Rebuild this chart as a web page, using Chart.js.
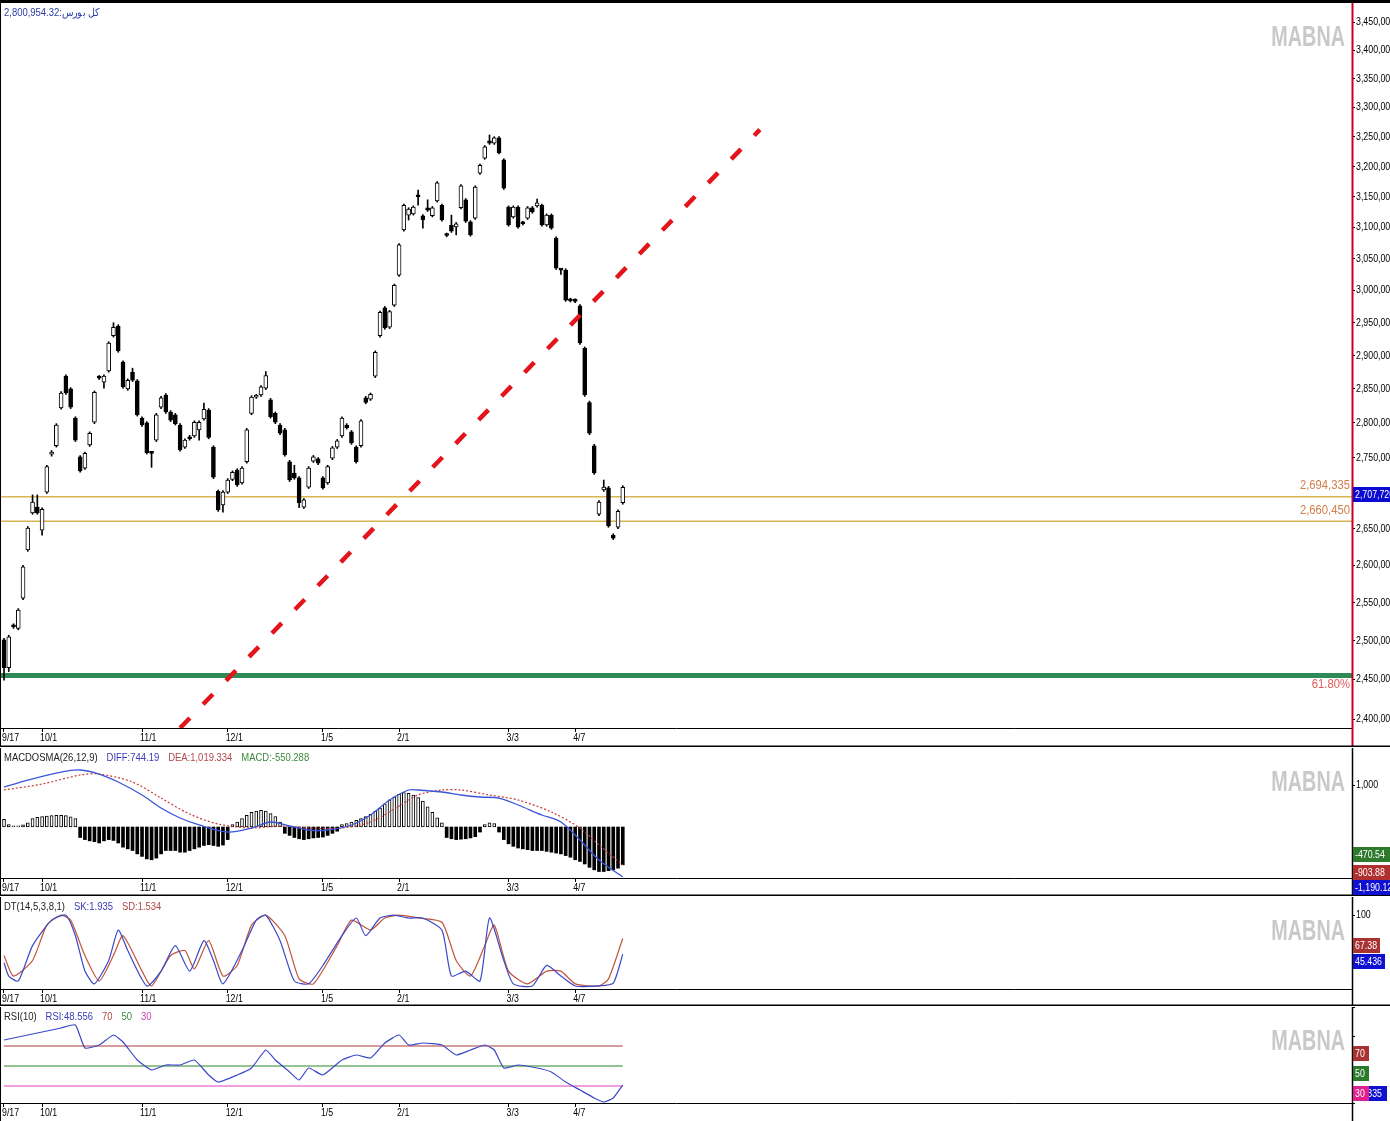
<!DOCTYPE html>
<html>
<head>
<meta charset="utf-8">
<script src="https://cdn.jsdelivr.net/npm/chart.js@4.4.1/dist/chart.umd.min.js"></script>
<style>
body { margin: 0; background: #fff; }
#wrap { position: relative; width: 1390px; height: 1121px; overflow: hidden; background: #fff; }
#topline { position: absolute; left: 0; top: 0; width: 1390px; height: 3px; background: #000; }
canvas { position: absolute; left: 0; display: block; }
</style>
</head>
<body>
<div id="wrap">
  <div id="topline"></div>
  <canvas id="main" width="1390" height="744" style="top:3px"></canvas>
  <canvas id="macd" width="1390" height="148" style="top:748px"></canvas>
  <canvas id="dt" width="1390" height="109" style="top:897px"></canvas>
  <canvas id="rsi" width="1390" height="114" style="top:1007px"></canvas>
</div>
<script>
const FONT = '"Liberation Sans", Arial, sans-serif';

// x positions are candle numbers (0 = 9/17)
const X_MIN = -0.84, X_MAX = 283.2;
const dateIdx = [0, 8, 29, 47, 67, 83, 106, 120];
const dateLabels = ['9/17', '10/1', '11/1', '12/1', '1/5', '2/1', '3/3', '4/7'];

// daily candles, thousands of points
const candleOpen = [2501,2465,2520,2516,2556,2621,2672,2680,2648,2701,
  2755,2767,2822,2869,2850,2807,2751,2735,2768,2801,
  2868,2860,2877,2930,2945,2890,2850,2875,2862,2807,
  2800,2757,2775,2823,2841,2816,2812,2797,2765,2780,
  2781,2790,2806,2819,2765,2702,2683,2701,2719,2732,
  2714,2744,2814,2838,2841,2851,2834,2814,2797,2790,
  2744,2728,2721,2680,2708,2745,2748,2721,2714,2749,
  2765,2781,2797,2787,2765,2767,2837,2835,2869,2930,
  2973,2943,2977,3024,3096,3120,3122,3153,3119,3132,
  3119,3143,3136,3089,3104,3101,3132,3145,3109,3115,
  3189,3214,3243,3239,3248,3211,3133,3117,3133,3108,
  3115,3132,3135,3136,3104,3120,3083,3033,3032,2986,
  2985,2976,2911,2830,2767,2670,2704,2707,2641,2652,2686];
const candleHigh = [2503,2507,2522,2542,2600,2653,2697,2697,2679,2739,
  2760,2799,2846,2871,2852,2809,2753,2758,2787,2847,
  2870,2871,2921,2950,2947,2892,2865,2881,2864,2809,
  2802,2759,2814,2839,2843,2818,2814,2799,2777,2782,
  2803,2803,2829,2821,2767,2704,2703,2720,2731,2734,
  2737,2792,2840,2842,2855,2876,2836,2816,2799,2792,
  2746,2739,2723,2692,2737,2753,2750,2723,2739,2766,
  2776,2809,2799,2789,2767,2805,2839,2844,2907,2968,
  2975,2969,3010,3074,3138,3132,3135,3161,3121,3145,
  3134,3175,3138,3091,3120,3108,3170,3147,3111,3168,
  3204,3235,3253,3250,3250,3213,3135,3135,3135,3110,
  3134,3134,3146,3138,3122,3122,3085,3034,3034,2988,
  2987,2978,2913,2832,2769,2689,2718,2709,2643,2676,2710];
const candleLow = [2449,2460,2516,2514,2554,2619,2670,2670,2641,2699,
  2752,2765,2820,2842,2821,2773,2729,2733,2766,2799,
  2864,2851,2875,2928,2905,2851,2848,2861,2810,2795,
  2755,2736,2773,2821,2814,2802,2797,2759,2763,2775,
  2779,2775,2804,2777,2720,2674,2673,2699,2717,2709,
  2712,2742,2812,2836,2839,2849,2807,2799,2783,2752,
  2716,2719,2679,2678,2706,2743,2740,2705,2712,2747,
  2763,2779,2791,2769,2742,2765,2828,2833,2867,2928,
  2940,2941,2975,3022,3094,3112,3120,3136,3099,3126,
  3117,3141,3110,3085,3092,3088,3130,3108,3086,3113,
  3187,3212,3237,3237,3221,3162,3102,3115,3099,3104,
  3113,3123,3133,3102,3102,3097,3033,3025,2983,2982,
  2981,2917,2839,2783,2726,2668,2702,2652,2635,2650,2684];
const candleClose = [2465,2505,2518,2540,2598,2651,2687,2672,2677,2737,
  2757,2797,2844,2844,2823,2775,2731,2756,2785,2845,
  2866,2869,2919,2943,2907,2853,2863,2863,2812,2797,
  2757,2756,2812,2837,2816,2804,2799,2761,2775,2777,
  2801,2801,2820,2779,2722,2676,2701,2718,2729,2711,
  2735,2790,2838,2840,2853,2870,2809,2801,2785,2754,
  2718,2721,2686,2690,2735,2751,2742,2707,2737,2764,
  2774,2807,2793,2771,2744,2803,2830,2842,2905,2966,
  2942,2967,3008,3072,3136,3130,3133,3150,3112,3128,
  3132,3173,3112,3087,3094,3106,3168,3110,3088,3166,
  3202,3233,3239,3248,3223,3164,3104,3133,3101,3106,
  3132,3125,3140,3104,3120,3099,3035,3032,2985,2984,
  2983,2919,2841,2785,2728,2687,2708,2654,2637,2674,2707.72];

const priceTicks = [2400,2450,2500,2550,2600,2650,2700,2750,2800,2850,2900,2950,3000,3050,3100,3150,3200,3250,3300,3350,3400,3450];
const levelValues = [2694335, 2660450];
const levelTexts = ['2,694,335', '2,660,450'];
const fibValue = 2455000;
const trendX = [37, 158.8];
const trendY = [2388800, 3262000];
const lastPrice = 2707720;

// MACD panel
const macdHist = [180,60,30,30,50,100,200,230,250,260,270,280,280,270,240,200,
  -250,-300,-330,-350,-380,-330,-300,-320,-380,-480,-520,-560,-640,-700,-760,-780,
  -740,-640,-560,-560,-560,-600,-600,-560,-520,-480,-440,-420,-440,-460,-430,-300,
  60,120,200,280,350,380,400,380,320,250,120,
  -150,-200,-250,-280,-300,-280,-260,-250,-240,-200,-150,-100,
  60,80,120,160,200,250,300,380,450,550,650,720,780,820,800,760,700,620,480,350,220,100,
  -250,-280,-300,-290,-280,-260,-230,-120,
  60,100,80,
  -120,-300,-400,-460,-500,-520,-540,-560,-560,-560,-580,-600,-620,-640,-680,-720,
  -780,-820,-880,-960,-1020,-1060,-1060,-1040,-1020,-980,-900];
const diffIdx = [0,5,12,16,20,24,29,33,37,41,47,52,56,60,64,68,73,77,81,85,87,92,96,100,104,108,113,117,121,125,130];
const diffVal = [952,1119,1309,1357,1261,1071,762,452,214,48,-119,-24,119,24,-71,-71,48,286,643,881,881,833,762,714,690,524,286,119,-309,-785,-1190];
const deaIdx = [0,8,16,20,27,33,39,45,52,58,64,71,77,83,87,92,96,102,108,115,121,125,130];
const deaVal = [881,1023,1238,1261,1071,690,309,71,-24,24,-24,-24,119,500,762,881,881,762,643,357,-24,-428,-904];

// DT (stochastic) panel
const skIdx = [0,1,3,6,10,13,15,17,19,22,24,26,30,33,36,39,42,44,46,50,53,55,58,61,64,67,71,74,76,79,82,85,88,92,94,97,100,102,105,107,111,114,117,120,125,128,130];
const skVal = [33,14,7,57,93,100,71,21,3,36,79,50,0,21,57,21,64,36,3,50,93,100,64,7,3,29,71,96,71,96,100,96,96,79,14,21,7,96,36,3,0,29,14,0,0,4,45];
const sdIdx = [0,2,6,9,12,14,17,20,23,25,29,31,35,38,40,43,46,49,52,55,59,62,65,70,73,77,80,83,87,92,95,98,101,103,106,110,114,117,120,125,127,130];
const sdVal = [43,14,36,86,100,93,43,7,43,71,21,0,43,50,24,64,14,29,86,100,71,10,3,57,93,79,96,100,96,90,36,14,57,86,21,3,21,21,3,0,10,67];

// RSI panel
const rsiIdx = [0,3,8,12,15,17,20,23,25,28,31,34,37,40,43,45,49,52,55,57,60,62,64,67,71,74,77,80,83,85,88,92,95,98,101,103,105,108,112,115,118,121,124,126,128,130];
const rsiVal = [76,79,84,88,91,68,71,81,74,56,46,51,51,56,41,34,41,48,66,56,44,36,48,41,56,61,58,73,81,71,73,71,61,66,71,66,48,51,48,44,34,26,18,14,18,31];
const rsiLevels = [70, 50, 30];
const rsiLevelColors = ['#b03a3a', '#2a8a2a', '#e040c0'];

// narrow text: the terminal font is condensed, so squeeze horizontally
function sText(ctx, t, x, y, sx, align) {
  ctx.save();
  ctx.translate(x, y);
  ctx.scale(sx, 1);
  ctx.textAlign = align || 'left';
  ctx.fillText(t, 0, 0);
  ctx.restore();
  return ctx.measureText(t).width * sx;
}

const deco = {
  id: 'deco',
  afterDraw(chart, args, o) {
    const ctx = chart.ctx, a = chart.chartArea, W = chart.width, H = chart.height;
    const xs = chart.scales.x, ys = chart.scales.y;
    ctx.save();
    ctx.textBaseline = 'middle';
    // watermark
    ctx.font = 'bold 30px ' + FONT;
    ctx.fillStyle = '#c9c9c9';
    sText(ctx, 'MABNA', a.right - 7, a.top + 35, 0.66, 'right');
    // header
    ctx.font = '11px ' + FONT;
    let x = 4;
    o.header.forEach(h => {
      ctx.fillStyle = h[1];
      x += sText(ctx, h[0], x, a.top + 10, 0.86) + 9;
    });
    // date labels
    ctx.fillStyle = '#000';
    dateIdx.forEach((v, i) => sText(ctx, dateLabels[i], xs.getPixelForValue(v) - 2, a.bottom + 10, 0.8));
    // price / value labels on the right axis
    (o.yLabels || []).forEach(t => sText(ctx, t[1], a.right + 4, ys.getPixelForValue(t[0]), 0.8));
    // level labels
    ctx.font = '12.5px ' + FONT;
    (o.labels || []).forEach(l => {
      ctx.fillStyle = l.color;
      sText(ctx, l.text, a.right - 2, ys.getPixelForValue(l.v) + l.dy, 0.9, 'right');
    });
    // right axis line, left line, bottom separator
    ctx.strokeStyle = o.axisColor;
    ctx.lineWidth = o.axisWidth;
    ctx.beginPath(); ctx.moveTo(a.right + 0.5, 0); ctx.lineTo(a.right + 0.5, H); ctx.stroke();
    ctx.strokeStyle = '#000';
    ctx.lineWidth = 1;
    ctx.beginPath(); ctx.moveTo(0.5, 0); ctx.lineTo(0.5, H); ctx.stroke();
    if (o.sep) {
      ctx.lineWidth = 1.5;
      ctx.beginPath(); ctx.moveTo(0, H - 0.75); ctx.lineTo(W, H - 0.75); ctx.stroke();
    }
    // value boxes on the axis
    let last = -1e9;
    ctx.font = '11px ' + FONT;
    (o.boxes || []).forEach(b => {
      let top = Math.round(ys.getPixelForValue(b.v));
      if (top < last) top = last;
      b.parts.forEach(p => {
        ctx.fillStyle = p.bg;
        ctx.fillRect(a.right + 1, top, p.w, 15);
        ctx.fillStyle = '#fff';
        sText(ctx, p.text, a.right + 3, top + 8, 0.8);
      });
      last = top + 15;
    });
    ctx.restore();
  }
};

function xAxis(h) {
  return {
    type: 'linear', min: X_MIN, max: X_MAX, offset: false,
    afterBuildTicks: s => { s.ticks = dateIdx.map(v => ({ value: v })); },
    afterFit: s => { s.height = h; s.paddingLeft = 0; s.paddingRight = 0; },
    ticks: { display: false },
    grid: { drawOnChartArea: false, offset: false, tickLength: 4, color: '#000' },
    border: { color: '#000', width: 1 }
  };
}
function yAxis(extra) {
  return Object.assign({
    position: 'right',
    afterFit: s => { s.width = 38; s.paddingTop = 0; s.paddingBottom = 0; },
    ticks: { display: false },
    grid: { drawOnChartArea: false, tickLength: 3, color: '#000' },
    border: { display: false }
  }, extra);
}
function flat(v) { return [{ x: X_MIN, y: v }, { x: X_MAX, y: v }]; }
function pts(idx, vals) { return idx.map((x, i) => ({ x: x, y: vals[i] })); }
const base = { responsive: false, animation: false, events: [],
  layout: { padding: 0 }, plugins: { legend: { display: false }, tooltip: { enabled: false } } };

// main price panel
const bodies = candleOpen.map((o, i) => ({ x: i, y: [o * 1000, candleClose[i] * 1000] }));
const wicks = candleOpen.map((o, i) => ({ x: i, y: [candleLow[i] * 1000, candleHigh[i] * 1000] }));
const bodyFill = candleOpen.map((o, i) => candleClose[i] >= o ? '#fff' : '#000');

new Chart(document.getElementById('main'), {
  type: 'bar',
  data: { datasets: [
    { type: 'line', data: pts(trendX, trendY), borderColor: '#e3141b', borderWidth: 4.5, borderDash: [14, 19], pointRadius: 0 },
    { data: bodies, backgroundColor: bodyFill, borderColor: '#000', borderWidth: 1, borderSkipped: false, barThickness: 4, grouped: false, minBarLength: 2 },
    { data: wicks, backgroundColor: '#000', borderWidth: 0, barThickness: 1, grouped: false },
    { type: 'line', data: flat(levelValues[0]), borderColor: '#d8b552', borderWidth: 1.5, pointRadius: 0 },
    { type: 'line', data: flat(levelValues[1]), borderColor: '#d8b552', borderWidth: 1.5, pointRadius: 0 },
    { type: 'line', data: flat(fibValue), borderColor: '#2e8b57', borderWidth: 5, pointRadius: 0 }
  ] },
  options: Object.assign({}, base, {
    scales: {
      x: xAxis(19),
      y: yAxis({ type: 'logarithmic', min: 2388800, max: 3484300,
        afterBuildTicks: s => { s.ticks = priceTicks.map(v => ({ value: v * 1000 })); } })
    },
    plugins: Object.assign({}, base.plugins, { deco: {
      header: [['2,800,954.32:کل بورس', '#2a3caa']],
      yLabels: priceTicks.map(v => [v * 1000, (v * 1000).toLocaleString('en-US')]),
      axisColor: '#c8001e', axisWidth: 2, sep: true,
      labels: [
        { v: levelValues[0], text: levelTexts[0], color: '#cf7f4c', dy: -11 },
        { v: levelValues[1], text: levelTexts[1], color: '#cf7f4c', dy: -11 },
        { v: fibValue, text: '61.80%', color: '#e05a5a', dy: 9 }
      ],
      boxes: [{ v: lastPrice, parts: [{ text: '2,707,720', bg: '#0a0ad2', w: 40 }] }]
    } })
  }),
  plugins: [deco]
});

// MACD panel
new Chart(document.getElementById('macd'), {
  type: 'bar',
  data: { datasets: [
    { type: 'line', data: pts(diffIdx, diffVal), borderColor: '#3a55d8', borderWidth: 1.3, pointRadius: 0, tension: 0.3 },
    { type: 'line', data: pts(deaIdx, deaVal), borderColor: '#c83a3a', borderWidth: 1.2, borderDash: [2, 2], pointRadius: 0, tension: 0.3 },
    { data: macdHist.map((v, i) => ({ x: i, y: v })),
      backgroundColor: macdHist.map(v => v >= 0 ? '#fff' : '#000'),
      borderColor: '#000', borderWidth: macdHist.map(v => v >= 0 ? 1 : 0), borderSkipped: false,
      barThickness: 3, grouped: false }
  ] },
  options: Object.assign({}, base, {
    scales: {
      x: xAxis(18),
      y: yAxis({ type: 'linear', min: -1214, max: 1881,
        afterBuildTicks: s => { s.ticks = [{ value: 1000 }]; } })
    },
    plugins: Object.assign({}, base.plugins, { deco: {
      header: [['MACDOSMA(26,12,9)', '#222'], ['DIFF:744.19', '#3a3ab4'], ['DEA:1,019.334', '#b04848'], ['MACD:-550.288', '#3c8a3c']],
      yLabels: [[1000, '1,000']],
      axisColor: '#000', axisWidth: 1.5, sep: true,
      boxes: [
        { v: -470.54, parts: [{ text: '-470.54', bg: '#2d7a2d', w: 37 }] },
        { v: -903.88, parts: [{ text: '-903.88', bg: '#b03030', w: 37 }] },
        { v: -1190, parts: [{ text: '-1,190.12', bg: '#1010d0', w: 37 }] }
      ]
    } })
  }),
  plugins: [deco]
});

// DT panel
new Chart(document.getElementById('dt'), {
  type: 'line',
  data: { datasets: [
    { data: pts(skIdx, skVal), borderColor: '#3a48c8', borderWidth: 1.2, pointRadius: 0, tension: 0.2 },
    { data: pts(sdIdx, sdVal), borderColor: '#c2553a', borderWidth: 1.2, pointRadius: 0, tension: 0.2 }
  ] },
  options: Object.assign({}, base, {
    scales: {
      x: xAxis(17),
      y: yAxis({ type: 'linear', min: -4.3, max: 125.7,
        afterBuildTicks: s => { s.ticks = [{ value: 100 }]; } })
    },
    plugins: Object.assign({}, base.plugins, { deco: {
      header: [['DT(14,5,3,8,1)', '#222'], ['SK:1.935', '#3a3ab4'], ['SD:1.534', '#b04848']],
      yLabels: [[100, '100']],
      axisColor: '#000', axisWidth: 1.5, sep: true,
      boxes: [
        { v: 67.38, parts: [{ text: '67.38', bg: '#a83232', w: 27 }] },
        { v: 45.436, parts: [{ text: '45.436', bg: '#1010d0', w: 32 }] }
      ]
    } })
  }),
  plugins: [deco]
});

// RSI panel
const rsiSets = [{ data: pts(rsiIdx, rsiVal), borderColor: '#3a48c8', borderWidth: 1.2, pointRadius: 0, tension: 0.15 }];
rsiLevels.forEach((v, i) => rsiSets.push({ data: [{ x: 0, y: v }, { x: 130, y: v }], borderColor: rsiLevelColors[i], borderWidth: 1.2, pointRadius: 0 }));
new Chart(document.getElementById('rsi'), {
  type: 'line',
  data: { datasets: rsiSets },
  options: Object.assign({}, base, {
    scales: {
      x: xAxis(18),
      y: yAxis({ type: 'linear', min: 13, max: 109 })
    },
    plugins: Object.assign({}, base.plugins, { deco: {
      header: [['RSI(10)', '#222'], ['RSI:48.556', '#3a3ab4'], ['70', '#b04848'], ['50', '#3c8a3c'], ['30', '#d040b0']],
      axisColor: '#000', axisWidth: 1.5, sep: false,
      boxes: [
        { v: 70, parts: [{ text: '70', bg: '#a83232', w: 16 }] },
        { v: 50, parts: [{ text: '50', bg: '#2a7a2a', w: 16 }] },
        { v: 30, parts: [{ text: '30.335', bg: '#1010d0', w: 34 }, { text: '30', bg: '#e0208c', w: 16 }] }
      ]
    } })
  }),
  plugins: [deco]
});
</script>
</body>
</html>
